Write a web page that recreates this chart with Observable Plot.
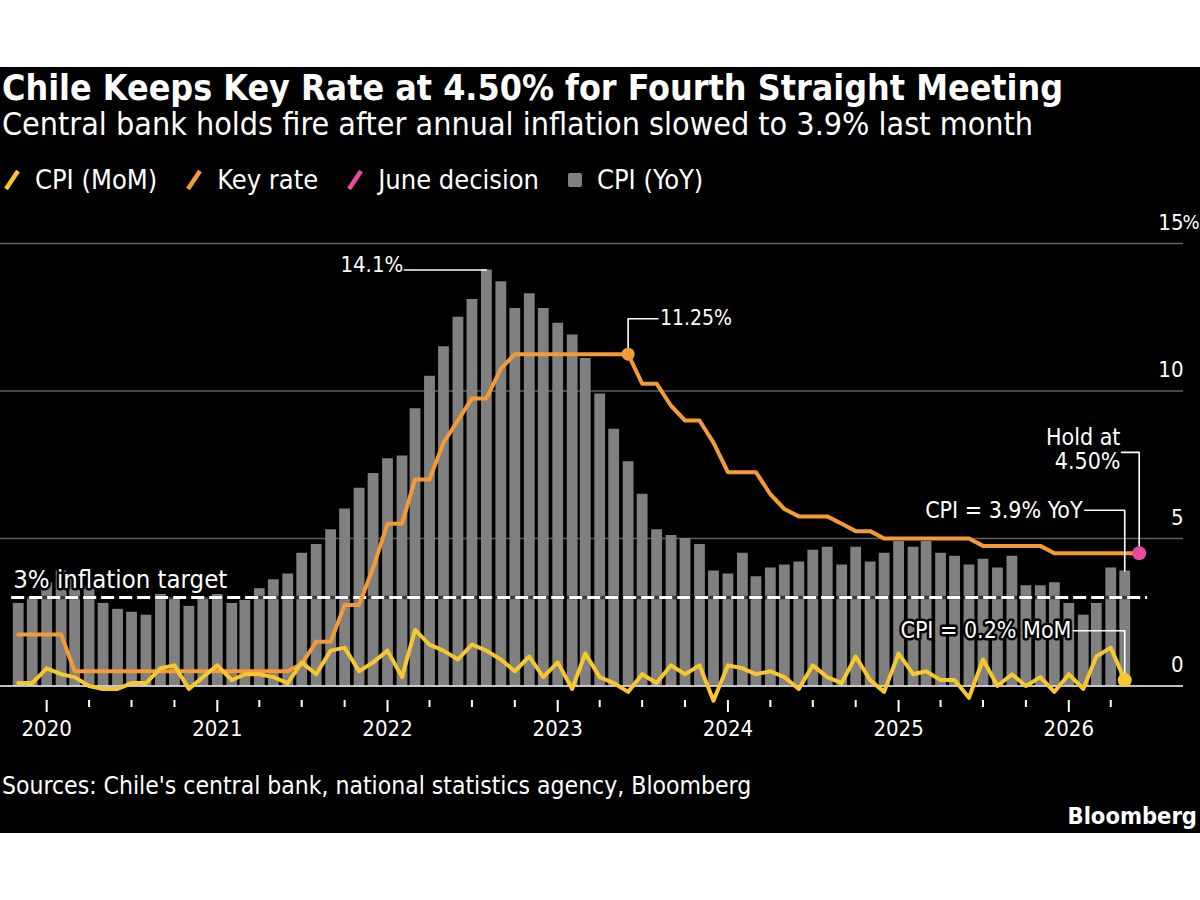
<!DOCTYPE html>
<html><head><meta charset="utf-8">
<script src="https://cdn.jsdelivr.net/npm/d3@7"></script>
<script src="https://cdn.jsdelivr.net/npm/@observablehq/plot@0.6"></script>
<style>
html,body{margin:0;padding:0;background:#fff;}
#wrap{position:relative;width:1200px;height:900px;background:#fff;overflow:hidden;font-family:"DejaVu Sans Condensed","DejaVu Sans",sans-serif;font-stretch:condensed;color:#fff;}
#panel{position:absolute;left:0;top:67px;width:1200px;height:766px;background:#000;}
.t{position:absolute;white-space:nowrap;line-height:1;}
#title{left:2px;top:70px;font-size:35.5px;font-weight:bold;}
#subtitle{left:2px;top:108px;font-size:32px;}
#legend{position:absolute;left:3px;top:166px;display:flex;align-items:center;font-size:27px;line-height:27px;}
.li{display:flex;align-items:center;margin-right:28px;}
.li svg{margin-right:14px;}
#chart{position:absolute;left:0;top:200px;}
#chart svg{font-stretch:condensed;}
#source{left:2px;top:774px;font-size:24.5px;}
#logo{right:3px;top:805px;font-size:23.5px;font-weight:bold;}
</style></head>
<body>
<div id="wrap">
  <div id="panel"></div>
  <div class="t" id="title"></div>
  <div class="t" id="subtitle"></div>
  <div id="legend"></div>
  <div id="chart"></div>
  <div class="t" id="source"></div>
  <div class="t" id="logo"></div>
</div>
<script>
// ---------- DATA ----------
const months = [
"2019-11","2019-12",
"2020-01","2020-02","2020-03","2020-04","2020-05","2020-06","2020-07","2020-08","2020-09","2020-10","2020-11","2020-12",
"2021-01","2021-02","2021-03","2021-04","2021-05","2021-06","2021-07","2021-08","2021-09","2021-10","2021-11","2021-12",
"2022-01","2022-02","2022-03","2022-04","2022-05","2022-06","2022-07","2022-08","2022-09","2022-10","2022-11","2022-12",
"2023-01","2023-02","2023-03","2023-04","2023-05","2023-06","2023-07","2023-08","2023-09","2023-10","2023-11","2023-12",
"2024-01","2024-02","2024-03","2024-04","2024-05","2024-06","2024-07","2024-08","2024-09","2024-10","2024-11","2024-12",
"2025-01","2025-02","2025-03","2025-04","2025-05","2025-06","2025-07","2025-08","2025-09","2025-10","2025-11","2025-12",
"2026-01","2026-02","2026-03","2026-04","2026-05","2026-06"];

// CPI year-on-year, % (Nov 2019 - May 2026)
const cpiYoY = [2.8,3.0,
3.5,3.9,3.7,3.4,2.8,2.6,2.5,2.4,3.1,3.0,2.7,3.0,
3.1,2.8,2.9,3.3,3.6,3.8,4.5,4.8,5.3,6.0,6.7,7.2,
7.7,7.8,9.4,10.5,11.5,12.5,13.1,14.1,13.7,12.8,13.3,12.8,
12.3,11.9,11.1,9.9,8.7,7.6,6.5,5.3,5.1,5.0,4.8,3.9,
3.8,4.5,3.7,4.0,4.1,4.2,4.6,4.7,4.1,4.7,4.2,4.5,
4.9,4.7,4.9,4.5,4.4,4.1,4.3,4.0,4.4,3.4,3.4,3.5,
2.8,2.4,2.8,4.0,3.9];

// CPI month-on-month, % (Nov 2019 - May 2026)
const cpiMoM = [0.1,0.1,
0.6,0.4,0.3,0.0,-0.1,-0.1,0.1,0.1,0.6,0.7,-0.1,0.3,
0.7,0.2,0.4,0.4,0.3,0.1,0.8,0.4,1.2,1.3,0.5,0.8,
1.2,0.3,1.9,1.4,1.2,0.9,1.4,1.2,0.9,0.5,1.0,0.3,
0.8,-0.1,1.1,0.3,0.1,-0.2,0.4,0.1,0.7,0.4,0.7,-0.5,
0.7,0.6,0.4,0.5,0.3,-0.1,0.7,0.3,0.1,1.0,0.2,-0.2,
1.1,0.4,0.5,0.2,0.2,-0.4,0.9,0.0,0.4,0.0,0.3,-0.2,
0.4,-0.1,1.0,1.3,0.2];

// Key policy rate, % (Nov 2019 - Jun 2026)
const keyRate = [1.75,1.75,
1.75,1.75,0.5,0.5,0.5,0.5,0.5,0.5,0.5,0.5,0.5,0.5,
0.5,0.5,0.5,0.5,0.5,0.5,0.75,1.5,1.5,2.75,2.75,4.0,
5.5,5.5,7.0,7.0,8.25,9.0,9.75,9.75,10.75,11.25,11.25,11.25,
11.25,11.25,11.25,11.25,11.25,11.25,10.25,10.25,9.5,9.0,9.0,8.25,
7.25,7.25,7.25,6.5,6.0,5.75,5.75,5.75,5.5,5.25,5.25,5.0,
5.0,5.0,5.0,5.0,5.0,5.0,4.75,4.75,4.75,4.75,4.75,4.5,
4.5,4.5,4.5,4.5,4.5,4.5];

const yTicks = [0, 5, 10, 15];
const inflationTarget = 3;
const legendLabels = ["CPI (MoM)", "Key rate", "June decision", "CPI (YoY)"];
const titleText = "Chile Keeps Key Rate at 4.50% for Fourth Straight Meeting";
const subtitleText = "Central bank holds fire after annual inflation slowed to 3.9% last month";
const sourceText = "Sources: Chile's central bank, national statistics agency, Bloomberg";

// annotation anchors (dates / levels on the chart's own scales)
const xDomainDates = ["2019-09-24", "2026-09-04"];
const targetSpan = ["2019-10-18", "2026-06-19"];
const peakLabelDate = "2022-02-06";
const ratePeakMonth = "2023-06", ratePeakLabelDate = "2023-08-04", ratePeakLabelLevel = 12.45;
const holdLabelDate = "2026-04-24", holdLabelLevel = 7.92;
const yoyLabelDate = "2026-02-04", yoyLabelLevel = 5.96;
const momLabelDate = "2026-01-11", momLabelLevel = 1.875;

// ---------- STYLE ----------
const YELLOW = "#f6c82d", ORANGE = "#f49b36", PINK = "#ea4a9d", GRAY = "#808080";
const FONT = '"DejaVu Sans Condensed","DejaVu Sans",sans-serif';

// ---------- BUILD ----------
const pm = d3.utcParse("%Y-%m"), pd = d3.utcParse("%Y-%m-%d");
const dates = months.map(pm);
const cpiData = cpiYoY.map((v, i) => ({date: dates[i], yoy: v, mom: cpiMoM[i]}));
const rateData = keyRate.map((v, i) => ({date: dates[i], rate: v}));
const yearTicks = dates.filter(d => d.getUTCMonth() === 0);
const quarterTicks = dates.filter(d => [3, 6, 9].includes(d.getUTCMonth()));

const peak = cpiData[d3.maxIndex(cpiData, d => d.yoy)];
const ratePeak = rateData.find(d => +d.date === +pm(ratePeakMonth));
const lastRate = rateData[rateData.length - 1];
const lastCpi = cpiData[cpiData.length - 1];

document.getElementById("title").textContent = titleText;
document.getElementById("subtitle").textContent = subtitleText;
document.getElementById("source").textContent = sourceText;
document.getElementById("logo").textContent = "Bloomberg";

const legendColors = [YELLOW, ORANGE, PINK, GRAY];
const legend = document.getElementById("legend");
legendLabels.forEach((lab, i) => {
  const item = document.createElement("div");
  item.className = "li";
  const icon = i < 3
    ? `<svg width="18" height="24"><line x1="3" y1="21" x2="15" y2="3" stroke="${legendColors[i]}" stroke-width="4.5"/></svg>`
    : `<svg width="16" height="24"><rect x="1" y="5" width="14" height="14" rx="2" fill="${legendColors[i]}"/></svg>`;
  item.innerHTML = icon + `<span>${lab}</span>`;
  legend.appendChild(item);
});

const path3 = (ax, ay, lx, ly) => [{x: ax, y: ay}, {x: ax, y: ly}, {x: lx, y: ly}];
const connRate = path3(ratePeak.date, ratePeak.rate, pd(ratePeakLabelDate), ratePeakLabelLevel);
const connHold = path3(lastRate.date, lastRate.rate, pd(holdLabelDate), holdLabelLevel);
const connYoY = path3(lastCpi.date, lastCpi.yoy, pd(yoyLabelDate), yoyLabelLevel);
const connMoM = path3(lastCpi.date, lastCpi.mom, pd(momLabelDate), momLabelLevel);
const connPeak = [{x: pd(peakLabelDate), y: peak.yoy}, {x: peak.date, y: peak.yoy}];

const conn = (pts) => Plot.line(pts, {x: "x", y: "y", stroke: "white", strokeWidth: 1.6, curve: "linear"});
const haloText = (d, opts) => [
  Plot.text(d, {...opts, fill: "black", stroke: "black", strokeWidth: 5}),
  Plot.text(d, {...opts, fill: "white"})
];

const chart = Plot.plot({
  width: 1200, height: 560,
  marginLeft: 0, marginRight: 17, marginTop: 43, marginBottom: 60,
  style: {background: "transparent", color: "#fff", fontFamily: FONT, fontSize: "22px", overflow: "visible"},
  x: {type: "utc", domain: xDomainDates.map(pd)},
  y: {domain: [0, 15], range: [485.5, 43]},
  marks: [
    Plot.gridY([5, 10, 15], {stroke: "#5f5f5f", strokeOpacity: 1, strokeWidth: 1.5}),
    Plot.ruleX(cpiData, {x: "date", y1: 0, y2: "yoy", stroke: GRAY, strokeWidth: 10.8}),
    Plot.ruleY([0], {stroke: "white", strokeWidth: 1.5}),
    Plot.axisX({ticks: yearTicks, tickSize: 12, tickPadding: 8, tickFormat: d3.utcFormat("%Y"), strokeWidth: 2, fontSize: 22, label: null}),
    Plot.axisX({ticks: quarterTicks, tickSize: 7, tickFormat: () => "", strokeWidth: 2, label: null}),
    Plot.axisY({ticks: yTicks, anchor: "right", tickSize: 0, tickPadding: 0, textAnchor: "end", dy: -21, fontSize: 22, label: null}),
    Plot.text([yTicks[yTicks.length - 1]], {y: d => d, text: () => "%", frameAnchor: "right", textAnchor: "start", dx: -1, dy: -21, fontSize: 20}),
    // inflation target
    Plot.ruleY([inflationTarget], {x1: pd(targetSpan[0]), x2: pd(targetSpan[1]), stroke: "black", strokeOpacity: 0.55, strokeWidth: 3.5}),
    Plot.ruleY([inflationTarget], {x1: pd(targetSpan[0]), x2: pd(targetSpan[1]), stroke: "white", strokeWidth: 3, strokeDasharray: "13,5"}),
    ...haloText([inflationTarget], {x: () => dates[0], y: d => d + 0.6, text: d => `${d}% inflation target`, textAnchor: "start", lineAnchor: "middle", dx: -5, fontSize: 25.5}),
    // lines
    Plot.line(rateData, {x: "date", y: "rate", stroke: ORANGE, strokeWidth: 4, strokeLinejoin: "round"}),
    Plot.line(cpiData, {x: "date", y: "mom", stroke: YELLOW, strokeWidth: 4, strokeLinejoin: "round"}),
    // connectors
    Plot.line(connPeak, {x: "x", y: "y", stroke: "white", strokeWidth: 1.6}),
    conn(connRate), conn(connHold), conn(connYoY), conn(connMoM),
    // dots
    Plot.dot([ratePeak], {x: "date", y: "rate", r: 6.5, fill: ORANGE}),
    Plot.dot([lastRate], {x: "date", y: "rate", r: 7, fill: PINK}),
    Plot.dot([lastCpi], {x: "date", y: "mom", r: 7, fill: YELLOW}),
    // labels
    Plot.text([peak], {x: () => pd(peakLabelDate), y: "yoy", text: d => `${d.yoy}%`, textAnchor: "end", lineAnchor: "bottom", dx: -1, dy: 2, fontSize: 22}),
    Plot.text([ratePeak], {x: () => pd(ratePeakLabelDate), y: () => ratePeakLabelLevel, text: d => `${d.rate.toFixed(2)}%`, textAnchor: "start", lineAnchor: "middle", dx: 2, fontSize: 21}),
    Plot.text([lastRate], {x: () => pd(holdLabelDate), y: () => holdLabelLevel, text: d => `Hold at\n${d.rate.toFixed(2)}%`, textAnchor: "end", lineAnchor: "middle", lineHeight: 1.05, dx: -1, dy: -3, fontSize: 23}),
    ...haloText([lastCpi], {x: () => pd(yoyLabelDate), y: () => yoyLabelLevel, text: d => `CPI = ${d.yoy}% YoY`, textAnchor: "end", lineAnchor: "middle", dx: -2, fontSize: 23}),
    ...haloText([lastCpi], {x: () => pd(momLabelDate), y: () => momLabelLevel, text: d => `CPI = ${d.mom}% MoM`, textAnchor: "end", lineAnchor: "middle", dx: -2, fontSize: 23})
  ]
});
document.getElementById("chart").appendChild(chart);
</script>
</body></html>
